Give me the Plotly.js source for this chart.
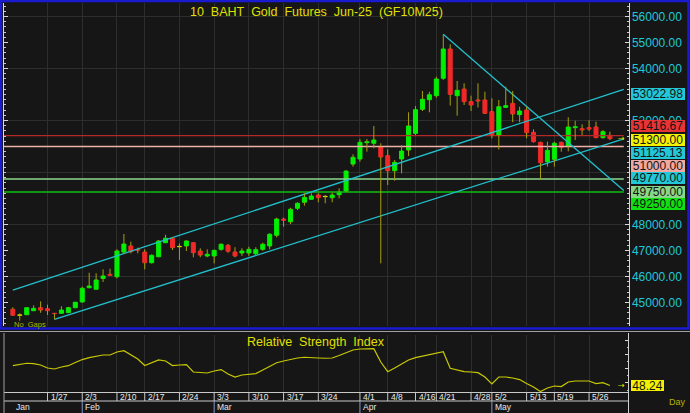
<!DOCTYPE html>
<html><head><meta charset="utf-8">
<script src="https://cdn.plot.ly/plotly-3.0.1.min.js"></script>
<style>html,body{margin:0;padding:0;background:#161616;}#chart{width:690px;height:413px;}</style>
</head><body><div id="chart"></div>
<script>
// ---------------- DATA ----------------
const dates = [
'2025-01-20','2025-01-21','2025-01-22','2025-01-23','2025-01-24',
'2025-01-27','2025-01-28','2025-01-29','2025-01-30','2025-01-31',
'2025-02-03','2025-02-04','2025-02-05','2025-02-06','2025-02-07',
'2025-02-10','2025-02-11','2025-02-13','2025-02-14',
'2025-02-17','2025-02-18','2025-02-19','2025-02-20','2025-02-21',
'2025-02-24','2025-02-25','2025-02-26','2025-02-27','2025-02-28',
'2025-03-03','2025-03-04','2025-03-05','2025-03-06','2025-03-07',
'2025-03-10','2025-03-11','2025-03-12','2025-03-13','2025-03-14',
'2025-03-17','2025-03-18','2025-03-19','2025-03-20','2025-03-21',
'2025-03-24','2025-03-25','2025-03-26','2025-03-27','2025-03-28',
'2025-03-31',
'2025-04-01','2025-04-02','2025-04-03','2025-04-04',
'2025-04-08','2025-04-09','2025-04-10','2025-04-11',
'2025-04-16','2025-04-17','2025-04-18',
'2025-04-21','2025-04-22','2025-04-23','2025-04-24','2025-04-25',
'2025-04-28','2025-04-29','2025-04-30',
'2025-05-02',
'2025-05-06','2025-05-07','2025-05-08','2025-05-09',
'2025-05-13','2025-05-14','2025-05-15','2025-05-16',
'2025-05-19','2025-05-20','2025-05-21','2025-05-22','2025-05-23',
'2025-05-26','2025-05-27','2025-05-28','2025-05-29'];

const open = [44740,44510,44530,44685,44800, 44760,44585,44585,44610,44800,
45020,45570,45510,45925,46085, 45990,46940,47175,47035,
46940,46530,46760,47300,47470, 47145,47175,47300,46980,46790,
46790,47045,47200,46940,46905, 46905,46875,47045,47175,47585,
48210,48105,48625,48855,48970, 49135,49070,49030,49145,49290,
50325, 50520,51145,51125,50990, 50645,50070,50520,50865,
51505,52430,52800, 52955,53625,54750,52955,53210, 52725,52790,52790,
52340, 51440,52505,52660,52225, 52405,51545,51160,50415,
50505,51160,51005,51725,51685, 51725,51750,51340,51430];
const high = [44815,44585,44810,44890,45045, 44915,44590,44855,44830,45020,
45610,46145,46125,46275,46300, 47045,47635,47340,47110,
47045,46850,47400,47605,47500, 47275,47390,47320,47085,47045,
47030,47275,47250,47125,47085, 47145,47125,47300,47660,48260,
48260,48645,48855,49200,49200, 49200,49135,49225,49390,50080,
50700, 51290,51290,51790,51125, 50890,50480,51055,52315,
52555,53135,53105, 53685,55315,54930,53520,53430, 52955,53430,53105,
52855, 52790,53300,53135,52530, 52530,51660,51185,51185,
51185,51185,52125,51990,51855, 52010,51955,51635,51570];
const low = [44490,44300,44520,44670,44605, 44520,44350,44570,44590,44780,
45000,45545,45490,45790,46030, 45930,46865,46890,46890,
46275,46500,46740,47280,47020, 46635,46980,46740,46740,46740,
46505,46990,46915,46740,46790, 46790,46825,46990,47045,47505,
47915,48020,48555,48725,48950, 48855,48815,48855,49005,49250,
50225, 50415,50800,50930,46505, 49520,49685,49970,50635,
51440,52365,52315, 52875,53555,52570,52185,52595, 52365,52500,52250,
51315, 50885,52480,51935,51935, 51315,51150,49740,50225,
50225,50800,50815,51250,51440, 51600,51320,51300,51250];
const close = [44510,44510,44800,44775,44710, 44685,44570,44710,44800,45010,
45545,45635,45865,46020,46045, 46980,47250,46955,47010,
46530,46815,47365,47470,47110, 47145,47365,46915,46825,46855,
47005,47240,46970,46790,46980, 47045,47030,47240,47625,48210,
48160,48585,48815,49045,49095, 49030,49070,49135,49245,50055,
50585, 51160,51185,51250,50595, 50070,50390,50825,51790,
52415,52815,52990, 53595,54750,53005,53160,52725, 52595,52750,52275,
51440, 52530,52570,52250,52365, 51530,51185,50375,50855,
51125,50970,51750,51760,51635, 51670,51340,51570,51300];

const rsi = [62.1,62.9,63.8,63.6,62.6, 60.5,59.8,61.2,62.1,64.3,
66.4,67.8,68.9,69.6,69.6, 71.7,72.6,69.6,66.8,
62.2,64.3,66.1,65.4,62.2, 62.6,62.9,57.7,57.2,57.0,
58.4,59.4,56.3,54.2,55.6, 56.3,56.6,59.1,61.9,64.2,
65.4,66.6,67.5,68.0,68.0, 67.5,67.3,67.5,69.2,71.3,
73.1, 73.8,74.0,74.0,64.7, 57.9,60.5,63.3,66.1,
67.8,68.9,69.6, 70.6,71.9,60.3,59.4,58.0, 57.7,57.2,54.2,
49.3, 54.2,54.2,53.5,52.4, 49.6,47.2,44.0,46.5,
47.9,47.5,50.7,51.4,51.4, 51.4,49.6,50.2,48.24];

const weekTickDates = ['2025-01-27','2025-02-03','2025-02-10','2025-02-17','2025-02-24','2025-03-03','2025-03-10','2025-03-17','2025-03-24','2025-04-01','2025-04-08','2025-04-16','2025-04-21','2025-04-28','2025-05-02','2025-05-13','2025-05-19','2025-05-26'];
const weekTickLabels = ['1/27','2/3','2/10','2/17','2/24','3/3','3/10','3/17','3/24','4/1','4/8','4/16','4/21','4/28','5/2','5/13','5/19','5/26'];
const monthStartDates = ['2025-01-20','2025-02-03','2025-03-03','2025-04-01','2025-05-02'];
const monthLabels = ['Jan','Feb','Mar','Apr','May'];

// price-axis labels that remain visible (others sit under the price tags)
const priceTicks = [45000, 46000, 47000, 48000, 52000, 54000, 55000, 56000];

const levelValues = [51416.67, 51000.00, 49750.00, 49250.00];
const levelColors = ['#b42828','#f0b0a8','#8cd88c','#10c010'];

const trendStartDates = ['2025-01-20','2025-01-28','2025-04-22'];
const trendStartPrices = [45480, 44350, 55315];
const trendEndDates = ['2025-05-29','2025-05-29','2025-05-29'];
const trendEndPrices = [53022.98, 51125.13, 49770.00];

const tagValues = [53022.98, 51416.67, 51300.00, 51125.13, 51000.00, 49770.00, 49750.00, 49250.00];
const tagColors = ['#22c8d8','#e83434','#f2f200','#22c8d8','#f0a8a0','#22c8d8','#88d888','#10e010'];
const rsiLast = 48.24;

// ---------------- LAYOUT HELPERS ----------------
const W = 690, H = 413;
const py = p => 1 - p / H;
const px = p => p / W;
const ix = d => dates.indexOf(d);
const N = dates.length;
const xr = [-1.27, 88.68];
const xEnd = N + 1;

const UP = '#00f000', DN = '#f02828', DOJI = '#e0e000', WICK = '#a8a010', CYAN = '#22c0cc';

const wx = [], wy = [];
const bBase = [], bH = [], bCol = [];
for (let i = 0; i < N; i++) {
  const lo = Math.min(open[i], close[i]), hi = Math.max(open[i], close[i]);
  if (high[i] > hi) { wx.push(i, i, null); wy.push(hi, high[i], null); }
  if (low[i] < lo) { wx.push(i, i, null); wy.push(low[i], lo, null); }
  bBase.push(lo); bH.push(Math.max(hi - lo, 12));
  bCol.push(close[i] > open[i] ? UP : (close[i] < open[i] ? DN : DOJI));
}

const traces = [];
levelValues.forEach((v, k) => traces.push({
  x: [xr[0], xEnd], y: [v, v], mode: 'lines', type: 'scatter',
  line: {color: levelColors[k], width: 1.3}, hoverinfo: 'skip', xaxis: 'x', yaxis: 'y'
}));
trendStartDates.forEach((d, k) => {
  const i0 = ix(d), i1 = ix(trendEndDates[k]);
  const slope = (trendEndPrices[k] - trendStartPrices[k]) / (i1 - i0);
  traces.push({
    x: [i0, i1, xEnd], y: [trendStartPrices[k], trendEndPrices[k], trendEndPrices[k] + slope * (xEnd - i1)],
    mode: 'lines', type: 'scatter', line: {color: CYAN, width: 1.3}, hoverinfo: 'skip', xaxis: 'x', yaxis: 'y'
  });
});
traces.push({x: wx, y: wy, mode: 'lines', type: 'scatter', line: {color: WICK, width: 1}, hoverinfo: 'skip', xaxis: 'x', yaxis: 'y'});
traces.push({
  type: 'bar', x: dates.map((d, i) => i), y: bH, base: bBase, width: 0.58,
  marker: {color: bCol, line: {color: bCol, width: 1}}, hoverinfo: 'skip', xaxis: 'x', yaxis: 'y'
});
traces.push({x: dates.map((d, i) => i), y: rsi, type: 'scatter', mode: 'lines',
  line: {color: '#c8c800', width: 1.2}, hoverinfo: 'skip', xaxis: 'x2', yaxis: 'y2'});

const weekIdx = weekTickDates.map(ix);
const monthIdx = monthStartDates.map(ix);

const shapes = [];
for (let v = 46000; v <= 56000; v += 2000) shapes.push({type: 'line', xref: 'x domain', x0: 0, x1: 1, yref: 'y', y0: v, y1: v, line: {color: '#2e2e2e', width: 1}, layer: 'below'});
shapes.push({type: 'rect', xref: 'paper', yref: 'paper', x0: px(1), x1: px(688.5), y0: py(328.5), y1: py(1), line: {color: '#1a1ad0', width: 2.5}});
shapes.push({type: 'line', xref: 'paper', yref: 'paper', x0: 0, x1: 1, y0: py(331.5), y1: py(331.5), line: {color: '#a0a0a0', width: 1}});
const L = px(4), R = px(628.5);
shapes.push({type: 'line', xref: 'paper', yref: 'paper', x0: L, x1: R, y0: py(392.5), y1: py(392.5), line: {color: '#c8c8c8', width: 1}});
shapes.push({type: 'line', xref: 'paper', yref: 'paper', x0: L, x1: R, y0: py(401), y1: py(401), line: {color: '#c8c8c8', width: 1}});
shapes.push({type: 'line', xref: 'paper', yref: 'paper', x0: L, x1: L, y0: py(333), y1: py(413), line: {color: '#a0a0a0', width: 1}});
shapes.push({type: 'line', xref: 'paper', yref: 'paper', x0: R, x1: R, y0: py(333), y1: py(413), line: {color: '#d0d0d0', width: 1}});
weekIdx.forEach(i => shapes.push({type: 'line', xref: 'x2', yref: 'paper', x0: i, x1: i, y0: py(392.5), y1: py(401), line: {color: '#c8c8c8', width: 1}}));
monthIdx.slice(1).forEach(i => shapes.push({type: 'line', xref: 'x2', yref: 'paper', x0: i, x1: i, y0: py(401), y1: py(413), line: {color: '#8098d0', width: 1}}));

const ann = [];
ann.push({xref: 'paper', yref: 'paper', x: px(316), y: py(12), text: '10\u00a0 BAHT\u00a0 Gold\u00a0 Futures\u00a0 Jun-25\u00a0 (GF10M25)', showarrow: false, font: {size: 12.5, color: '#e0e000'}, xanchor: 'center', yanchor: 'middle'});
ann.push({xref: 'paper', yref: 'paper', x: px(316), y: py(342), text: 'Relative\u00a0 Strength\u00a0 Index', showarrow: false, font: {size: 12.5, color: '#e0e000'}, xanchor: 'center', yanchor: 'middle'});
ann.push({xref: 'paper', yref: 'paper', x: px(12), y: py(324), text: 'No\u00a0 Gaps', showarrow: false, font: {size: 7.5, color: '#b4b400'}, xanchor: 'left', yanchor: 'middle'});
ann.push({xref: 'paper', yref: 'paper', x: px(667), y: py(402), text: 'Day', showarrow: false, font: {size: 9, color: '#b4b400'}, xanchor: 'left', yanchor: 'middle'});
weekIdx.forEach((i, k) => ann.push({xref: 'x2', yref: 'paper', x: i, y: py(397), xshift: 1, text: weekTickLabels[k], showarrow: false, font: {size: 8.5, color: '#e8e8e8'}, xanchor: 'left', yanchor: 'middle'}));
monthIdx.forEach((i, k) => ann.push({xref: 'x2', yref: 'paper', x: i, y: py(407), xshift: 1, text: monthLabels[k], showarrow: false, font: {size: 8.5, color: '#e8e8e8'}, xanchor: 'left', yanchor: 'middle'}));
const tagSlots = [93.5, 126.5, 139.5, 152.5, 165.5, 178.5, 191.5, 204.5];
tagValues.forEach((v, k) => ann.push({xref: 'paper', yref: 'paper', x: px(631), y: py(tagSlots[k]), xanchor: 'left', yanchor: 'middle',
  text: v.toFixed(2), showarrow: false, bgcolor: tagColors[k], font: {size: 12, color: '#141414'}, width: 54, height: 12, borderpad: 0, borderwidth: 0}));
ann.push({xref: 'paper', yref: 'y2', x: px(631), y: rsiLast, xanchor: 'left', yanchor: 'middle', text: rsiLast.toFixed(2), showarrow: false,
  bgcolor: '#f2f200', font: {size: 12, color: '#141414'}, width: 33, height: 11, borderpad: 0, borderwidth: 0});
ann.push({xref: 'x', yref: 'y', x: xEnd - 0.4, y: close[N - 1], text: '→', showarrow: false, font: {size: 8, color: '#e0e000', family: 'DejaVu Sans'}, xanchor: 'center', yanchor: 'middle', borderpad: 0});
ann.push({xref: 'x2', yref: 'y2', x: xEnd - 0.4, y: rsiLast, text: '→', showarrow: false, font: {size: 8, color: '#e0e000', family: 'DejaVu Sans'}, xanchor: 'center', yanchor: 'middle', borderpad: 0});

const layout = {
  width: W, height: H, margin: {l: 0, r: 0, t: 0, b: 0},
  paper_bgcolor: '#161616', plot_bgcolor: '#161616',
  font: {family: 'Liberation Sans, Arial, sans-serif'},
  showlegend: false, hovermode: false,
  xaxis: {domain: [px(4), px(628.5)], range: xr, tickvals: weekIdx, showticklabels: false, ticks: '',
    showgrid: true, gridcolor: '#2e2e2e', gridwidth: 1, zeroline: false, showline: false, anchor: 'y'},
  yaxis: {domain: [py(326), py(3)], range: [44096.2, 56519.2], side: 'right', anchor: 'x',
    tickmode: 'array', tickvals: priceTicks, tickformat: '.2f', ticks: 'inside', ticklen: 4, tickcolor: '#d8d8d8',
    showline: true, linecolor: '#d8d8d8', linewidth: 1, mirror: 'ticks', showgrid: false, zeroline: false,
    tickfont: {size: 12, color: '#1ec8d8'},
    minor: {tickmode: 'linear', tick0: 0, dtick: 200, ticks: 'inside', ticklen: 2, tickcolor: '#c8c8c8', showgrid: false}},
  xaxis2: {domain: [px(4), px(628.5)], matches: 'x', range: xr, tickvals: weekIdx, showticklabels: false, ticks: '',
    showgrid: true, gridcolor: '#2e2e2e', zeroline: false, showline: false, anchor: 'y2'},
  yaxis2: {domain: [py(392), py(335)], range: [43.69, 83.59], side: 'right', anchor: 'x2',
    tick0: 0, dtick: 10, showticklabels: false, ticks: 'inside', ticklen: 4, tickcolor: '#d8d8d8',
    showline: false, showgrid: false, zeroline: false,
    minor: {dtick: 5, ticks: 'inside', ticklen: 2, tickcolor: '#c8c8c8', showgrid: false}},
  shapes: shapes, annotations: ann
};

Plotly.newPlot('chart', traces, layout, {staticPlot: true, displayModeBar: false});
</script></body></html>
